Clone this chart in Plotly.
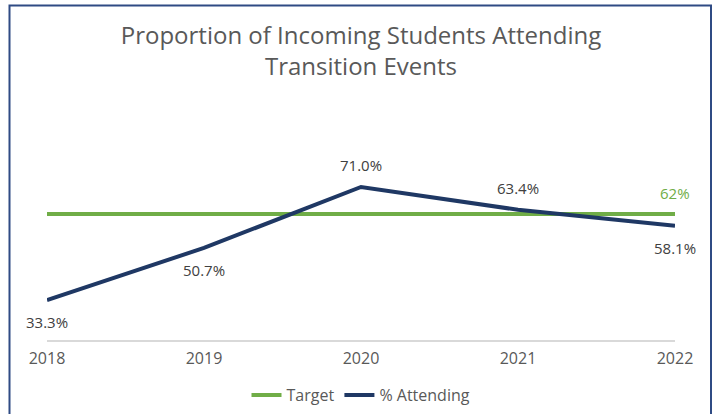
import plotly.graph_objects as go

years = [2018, 2019, 2020, 2021, 2022]
attending = [33.3, 50.7, 71.0, 63.4, 58.1]
target = [62, 62, 62, 62, 62]
attending_labels = ["33.3%", "50.7%", "71.0%", "63.4%", "58.1%"]
label_side = [-1, -1, 1, 1, -1]
target_label = "62%"

W, H = 715, 414
L, R, T, B = 47, 40, 160, 74
pw, ph = W - L - R, H - T - B

def px_x(p):  # page px -> paper
    return (p - L) / pw

def px_y(p):
    return (H - B - p) / ph

FONT = "Open Sans"

fig = go.Figure()
fig.add_trace(go.Scatter(x=years, y=target, mode="lines", name="Target",
                         line=dict(color="#70AD47", width=4)))
fig.add_trace(go.Scatter(x=years, y=attending, mode="lines", name="% Attending",
                         line=dict(color="#1F3864", width=4)))

annotations = []
for x, y, t, s in zip(years, attending, attending_labels, label_side):
    annotations.append(dict(x=x, y=y, text=t, showarrow=False, yshift=22 * s,
                            font=dict(family=FONT, size=15, color="#404040")))
annotations.append(dict(x=years[-1], y=target[-1], text=target_label, showarrow=False,
                        yshift=21, font=dict(family=FONT, size=15, color="#70AD47")))

fig.update_layout(
    width=W, height=H,
    margin=dict(l=L, r=R, t=T, b=B, autoexpand=False),
    paper_bgcolor="white", plot_bgcolor="white",
    title=dict(text="Proportion of Incoming Students Attending<br>Transition Events",
               x=0.5, xref="paper", xanchor="center", y=1 - 44 / H, yanchor="middle",
               font=dict(family=FONT, size=24, color="#595959")),
    xaxis=dict(range=[2018, 2022], tickvals=years, ticktext=[str(y) for y in years],
               showgrid=False, zeroline=False, showline=True, linecolor="#D9D9D9",
               linewidth=1.5, ticks="", ticklabelstandoff=3,
               tickfont=dict(family=FONT, size=16, color="#595959")),
    yaxis=dict(range=[20, 80], visible=False, showgrid=False, zeroline=False),
    showlegend=True,
    legend=dict(orientation="h", x=0.5, xanchor="center", yref="container",
                y=(H - 395) / H, yanchor="middle",
                font=dict(family=FONT, size=16, color="#595959"),
                itemwidth=30, traceorder="normal"),
    annotations=annotations,
    shapes=[dict(type="rect", xref="paper", yref="paper",
                 x0=px_x(9.5), x1=px_x(711), y0=px_y(430), y1=px_y(5.5),
                 line=dict(color="#2F4B84", width=2), fillcolor="rgba(0,0,0,0)", layer="above")],
)

fig.write_html("out.html", config={"displayModeBar": False},
               post_script="document.body.style.margin='0';document.body.style.overflow='hidden';")
